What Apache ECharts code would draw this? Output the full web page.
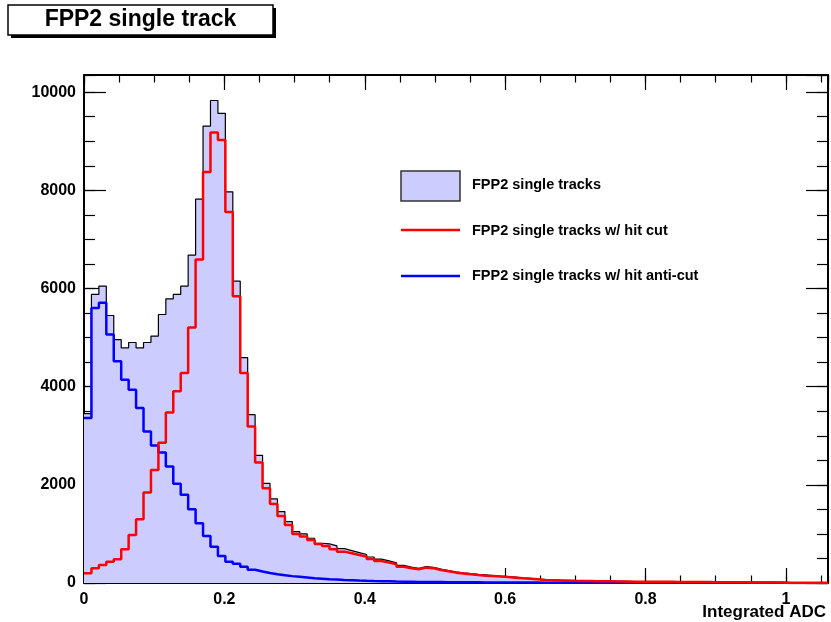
<!DOCTYPE html>
<html>
<head>
<meta charset="utf-8">
<script src="https://cdn.jsdelivr.net/npm/echarts@6/dist/echarts.min.js"></script>
<style>
html,body{margin:0;padding:0;background:#fff;}
#chart{width:831px;height:622px;}
</style>
</head>
<body>
<div id="chart"></div>
<script>
// ---- data (100 bins from 0 to 1.06) ----
const xMin = 0;
const xMax = 1.06;
const nBins = 100;
const yMax = 10350;
const xTickLabels = ['0', '0.2', '0.4', '0.6', '0.8', '1'];
const yTickLabels = ['0', '2000', '4000', '6000', '8000', '10000'];
const seriesNames = ['FPP2 single tracks', 'FPP2 single tracks w/ hit cut', 'FPP2 single tracks w/ hit anti-cut'];

const totalCounts = [
  3450, 5880, 6050, 5450, 4960, 4790, 4900, 4790, 4900, 5030,
  5470, 5790, 5880, 6050, 6680, 7820, 9310, 9830, 9570, 7970,
  6150, 4590, 3430, 2600, 2030, 1714, 1456, 1252, 1048, 1000,
  912, 810, 796, 757, 700, 660, 620, 580, 530, 487,
  450, 411, 361, 324, 301, 333, 320, 285, 255, 228,
  205, 190, 175, 165, 152, 140, 128, 118, 105, 95,
  82, 70, 65, 60, 55, 50, 47, 44, 41, 38,
  36, 34, 32, 30, 29, 28, 27, 26, 25, 24,
  23, 22, 21, 20, 19, 18, 17, 16, 15, 14,
  13, 12, 11, 10, 0, 0, 0, 0, 0, 0
];

const hitCutCounts = [
  197, 299, 367, 435, 483, 687, 980, 1299, 1843, 2300,
  2860, 3476, 3905, 4279, 5205, 6592, 8374, 9177, 9027, 7557,
  5843, 4279, 3190, 2456, 1932, 1612, 1367, 1184, 1000, 946,
  878, 796, 755, 687, 639, 605, 571, 537, 490, 449,
  415, 381, 333, 299, 279, 313, 300, 265, 240, 211,
  195, 180, 163, 150, 143, 130, 120, 109, 95, 85,
  75, 61, 55, 50, 47, 44, 42, 40, 38, 36,
  34, 32, 30, 28, 27, 26, 25, 24, 23, 22,
  21, 20, 19, 18, 17, 16, 15, 14, 13, 12,
  11, 10, 9, 8, 0, 0, 0, 0, 0, 0
];

const antiCutCounts = [
  3361, 5605, 5708, 5061, 4517, 4143, 3939, 3565, 3088, 2803,
  2660, 2374, 2020, 1796, 1503, 1218, 959, 741, 551, 435,
  390, 330, 270, 235, 205, 180, 160, 140, 125, 110,
  95, 85, 75, 70, 62, 56, 50, 45, 41, 38,
  35, 30, 28, 25, 22, 20, 19, 18, 17, 16,
  15, 14, 13, 12, 11, 10, 9, 9, 8, 8,
  8, 7, 7, 7, 6, 6, 6, 6, 5, 5,
  5, 5, 5, 5, 5, 4, 4, 4, 4, 4,
  4, 4, 4, 4, 3, 3, 3, 3, 3, 3,
  3, 3, 3, 3, 0, 0, 0, 0, 0, 0
];

// ---- build step data from bin edges ----
const binWidth = (xMax - xMin) / nBins;
function stepData(vals) {
  const d = vals.map((v, i) => [xMin + i * binWidth, v]);
  d.push([xMin + vals.length * binWidth, vals[vals.length - 1]]);
  return d;
}

const FONT = 'Liberation Sans, Arial, Helvetica, sans-serif';
const labelStyle = { fontFamily: FONT, fontWeight: 'bold', fontSize: 16, color: '#000' };

function xAx(pos, interval, tickLen, showLine, showLabel) {
  return {
    type: 'value', position: pos, min: xMin, max: xMax, interval: interval,
    axisLine: { show: showLine, onZero: false, lineStyle: { color: '#000', width: 2 } },
    axisTick: { show: true, inside: true, length: tickLen, lineStyle: { color: '#000', width: 1.2 } },
    splitLine: { show: false },
    axisLabel: { show: showLabel, showMaxLabel: false, margin: 9,
      formatter: function (v) {
        const idx = Math.round(v / 0.2);
        return Math.abs(v - idx * 0.2) < 1e-6 ? xTickLabels[idx] : '';
      }, ...labelStyle }
  };
}
function yAx(pos, interval, tickLen, showLine, showLabel) {
  return {
    type: 'value', position: pos, min: 0, max: yMax, interval: interval,
    axisLine: { show: showLine, onZero: false, lineStyle: { color: '#000', width: 2 } },
    axisTick: { show: true, inside: true, length: tickLen, lineStyle: { color: '#000', width: 1.2 } },
    splitLine: { show: false },
    axisLabel: { show: showLabel, showMaxLabel: false, margin: 8,
      formatter: function (v) {
        const idx = Math.round(v / 2000);
        return Math.abs(v - idx * 2000) < 1e-6 ? yTickLabels[idx] : '';
      }, ...labelStyle }
  };
}

const xAxes = [
  xAx('bottom', 0.2, 15, true, true),
  xAx('bottom', 0.05, 7.5, false, false),
  xAx('top', 0.2, 15, true, false),
  xAx('top', 0.05, 7.5, false, false)
];
xAxes[0].name = 'Integrated ADC';
xAxes[0].nameLocation = 'end';
xAxes[0].nameGap = -2;
xAxes[0].nameMoveOverlap = false;
xAxes[0].nameTextStyle = { ...labelStyle, fontSize: 17, align: 'right', verticalAlign: 'top', padding: [21, 0, 0, 0] };

const yAxes = [
  yAx('left', 2000, 22, true, true),
  yAx('left', 500, 11, false, false),
  yAx('right', 2000, 22, true, false),
  yAx('right', 500, 11, false, false)
];

const chart = echarts.init(document.getElementById('chart'), null, { renderer: 'canvas' });
chart.setOption({
  backgroundColor: '#fff',
  animation: false,
  grid: { left: 84, right: 3, top: 75, bottom: 39, containLabel: false, outerBoundsMode: 'none' },
  xAxis: xAxes,
  yAxis: yAxes,
  series: [
    {
      name: seriesNames[0], type: 'line', step: 'end', showSymbol: false,
      xAxisIndex: 0, yAxisIndex: 0,
      data: stepData(totalCounts),
      lineStyle: { color: '#000', width: 1.2 },
      areaStyle: { color: '#ccccff', opacity: 1 },
      z: 2
    },
    {
      name: seriesNames[1], type: 'line', step: 'end', showSymbol: false,
      xAxisIndex: 0, yAxisIndex: 0,
      data: stepData(hitCutCounts),
      lineStyle: { color: '#ff0000', width: 2.5 },
      z: 4
    },
    {
      name: seriesNames[2], type: 'line', step: 'end', showSymbol: false,
      xAxisIndex: 0, yAxisIndex: 0,
      data: stepData(antiCutCounts),
      lineStyle: { color: '#0000ff', width: 2.5 },
      z: 3
    }
  ],
  graphic: [
    { type: 'rect', shape: { x: 11, y: 8, width: 265, height: 30 }, style: { fill: '#000' }, z: 10 },
    { type: 'rect', shape: { x: 8, y: 5, width: 265, height: 30 }, style: { fill: '#fff', stroke: '#000', lineWidth: 1.5 }, z: 11 },
    { type: 'text', x: 140.5, y: 20, z: 12,
      style: { text: 'FPP2 single track', fontFamily: FONT, fontWeight: 'bold', fontSize: 23, fill: '#000', align: 'center', verticalAlign: 'middle' } },
    { type: 'rect', shape: { x: 401, y: 171, width: 59, height: 30 }, style: { fill: '#ccccff', stroke: '#333', lineWidth: 1.5 }, z: 10 },
    { type: 'text', x: 472, y: 185, z: 10,
      style: { text: seriesNames[0], fontFamily: FONT, fontWeight: 'bold', fontSize: 14.5, fill: '#000', align: 'left', verticalAlign: 'middle' } },
    { type: 'line', shape: { x1: 401, y1: 230, x2: 460, y2: 230 }, style: { stroke: '#ff0000', lineWidth: 2.5 }, z: 10 },
    { type: 'text', x: 472, y: 231, z: 10,
      style: { text: seriesNames[1], fontFamily: FONT, fontWeight: 'bold', fontSize: 14.5, fill: '#000', align: 'left', verticalAlign: 'middle' } },
    { type: 'line', shape: { x1: 401, y1: 276, x2: 460, y2: 276 }, style: { stroke: '#0000ff', lineWidth: 2.5 }, z: 10 },
    { type: 'text', x: 472, y: 276, z: 10,
      style: { text: seriesNames[2], fontFamily: FONT, fontWeight: 'bold', fontSize: 14.5, fill: '#000', align: 'left', verticalAlign: 'middle' } }
  ]
});
</script>
</body>
</html>
